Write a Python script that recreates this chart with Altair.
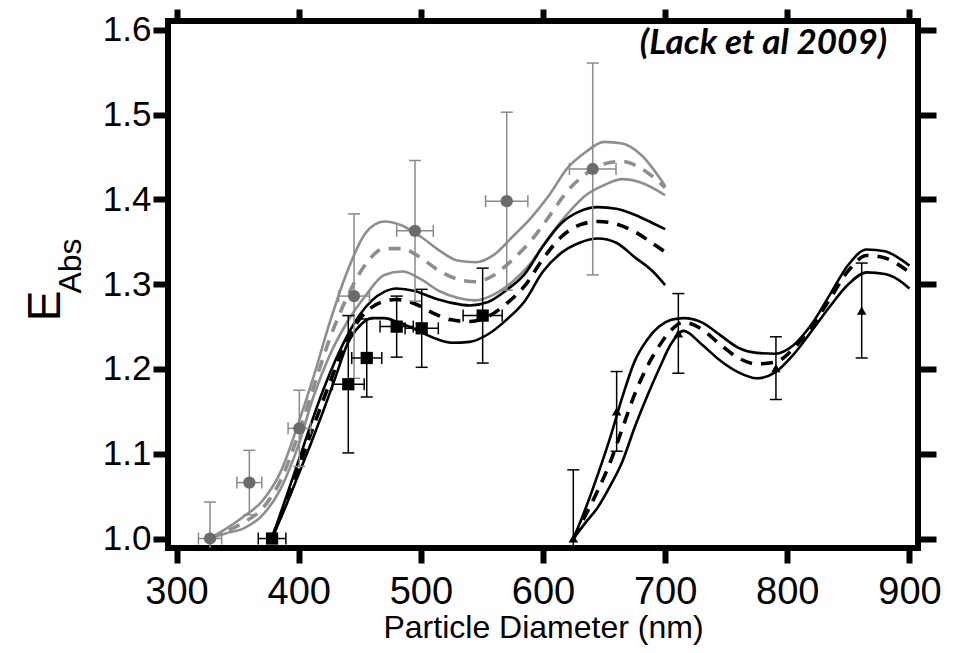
import altair as alt
import pandas as pd

# ---------------- data ----------------
gray_x = [327, 340, 355, 370, 385, 400, 412, 425, 440, 455, 470, 485, 500, 515, 530,
          545, 560, 575, 590, 605, 620, 635, 650, 665, 680, 700]
gray_upper = [1.000, 1.011, 1.026, 1.044, 1.078, 1.137, 1.190, 1.253, 1.316, 1.361, 1.374,
              1.369, 1.356, 1.340, 1.328, 1.326, 1.335, 1.356, 1.378, 1.405, 1.437, 1.456,
              1.468, 1.466, 1.453, 1.416]
gray_mid = [1.000, 1.008, 1.019, 1.035, 1.068, 1.124, 1.178, 1.234, 1.286, 1.324, 1.342,
            1.342, 1.331, 1.316, 1.306, 1.303, 1.311, 1.329, 1.351, 1.380, 1.410, 1.430,
            1.442, 1.445, 1.437, 1.414]
gray_lower = [1.000, 1.006, 1.012, 1.027, 1.058, 1.111, 1.167, 1.215, 1.256, 1.287, 1.311,
              1.315, 1.306, 1.292, 1.284, 1.281, 1.288, 1.303, 1.325, 1.356, 1.383, 1.405,
              1.417, 1.424, 1.420, 1.405]

black_x = [378, 390, 400, 410, 420, 430, 440, 450, 460, 470, 480, 495, 510, 525, 540,
           555, 570, 585, 600, 615, 630, 645, 660, 675, 690, 700]
black_upper = [1.000, 1.050, 1.092, 1.135, 1.175, 1.210, 1.240, 1.264, 1.281, 1.291, 1.295,
               1.292, 1.284, 1.278, 1.275, 1.279, 1.293, 1.312, 1.345, 1.372, 1.386, 1.391,
               1.389, 1.382, 1.372, 1.365]
black_mid = [1.000, 1.045, 1.084, 1.124, 1.163, 1.201, 1.236, 1.259, 1.273, 1.280, 1.282,
             1.277, 1.266, 1.258, 1.256, 1.262, 1.277, 1.298, 1.330, 1.356, 1.370, 1.374,
             1.371, 1.362, 1.348, 1.338]
black_lower = [1.000, 1.040, 1.076, 1.112, 1.150, 1.190, 1.230, 1.251, 1.260, 1.260, 1.256,
               1.247, 1.237, 1.231, 1.232, 1.241, 1.258, 1.280, 1.315, 1.337, 1.349, 1.354,
               1.349, 1.332, 1.315, 1.299]

tri_x = [625, 635, 645, 655, 665, 675, 685, 695, 705, 715, 730, 745, 760, 775, 790,
         805, 820, 835, 850, 865, 880, 890, 900]
tri_upper = [1.000, 1.036, 1.076, 1.119, 1.167, 1.209, 1.234, 1.250, 1.258, 1.260, 1.255,
             1.240, 1.225, 1.219, 1.218, 1.228, 1.253, 1.288, 1.323, 1.341, 1.339, 1.332,
             1.322]
tri_mid = [1.000, 1.028, 1.057, 1.090, 1.130, 1.170, 1.202, 1.227, 1.246, 1.255, 1.247,
           1.229, 1.213, 1.206, 1.208, 1.224, 1.250, 1.283, 1.316, 1.334, 1.331, 1.324,
           1.314]
tri_lower = [1.000, 1.019, 1.037, 1.062, 1.091, 1.131, 1.167, 1.200, 1.230, 1.245, 1.229,
             1.210, 1.196, 1.189, 1.196, 1.217, 1.245, 1.274, 1.300, 1.314, 1.312, 1.306,
             1.295]

circle_x = [327.4, 359.6, 400.5, 445.3, 495.2, 570.3, 640.7]
circle_y = [1.000, 1.066, 1.130, 1.286, 1.363, 1.398, 1.436]
circle_yerr = [0.043, 0.038, 0.045, 0.097, 0.083, 0.105, 0.125]
circle_xerr = [9.5, 10.2, 9.2, 12.6, 15.0, 17.3, 19.1]

square_x = [378.2, 440.6, 455.7, 480.2, 500.7, 550.6]
square_y = [1.000, 1.182, 1.213, 1.250, 1.248, 1.263]
square_yerr = [0.0, 0.081, 0.046, 0.036, 0.046, 0.056]
square_xerr = [11.3, 13.0, 12.3, 13.6, 13.6, 16.0]

triangle_x = [624.8, 660.3, 710.8, 790.7, 860.9]
triangle_y = [1.000, 1.150, 1.242, 1.201, 1.269]
triangle_yerr = [0.081, 0.047, 0.047, 0.037, 0.056]

x_ticks = [300, 400, 500, 600, 700, 800, 900]
y_ticks = [1.0, 1.1, 1.2, 1.3, 1.4, 1.5, 1.6]

# ---------------- tables ----------------
def long_lines(xs, curves):
    rows = []
    for name, ys in curves.items():
        for xv, yv in zip(xs, ys):
            rows.append({"x": xv, "y": yv, "s": name})
    return pd.DataFrame(rows)

gray_solid = long_lines(gray_x, {"gu": gray_upper, "gl": gray_lower})
gray_dash = long_lines(gray_x, {"gm": gray_mid})
black_solid = pd.concat([long_lines(black_x, {"bu": black_upper, "bl": black_lower}),
                         long_lines(tri_x, {"tu": tri_upper, "tl": tri_lower})])
black_dash = pd.concat([long_lines(black_x, {"bm": black_mid}),
                        long_lines(tri_x, {"tm": tri_mid})])

def err_df(xs, ys, yerr, xerr=None):
    d = pd.DataFrame({"x": xs, "y": ys})
    d["ylo"] = [a - b for a, b in zip(ys, yerr)]
    d["yhi"] = [a + b for a, b in zip(ys, yerr)]
    if xerr is not None:
        d["xlo"] = [a - b for a, b in zip(xs, xerr)]
        d["xhi"] = [a + b for a, b in zip(xs, xerr)]
    return d

circ = err_df(circle_x, circle_y, circle_yerr, circle_xerr)
sq = err_df(square_x, square_y, square_yerr, square_xerr)
tri = err_df(triangle_x, triangle_y, triangle_yerr)

# ---------------- scales / axes ----------------
FONT = "Liberation Sans"
xs = alt.Scale(domain=[293, 907], nice=False, zero=False)
ys = alt.Scale(domain=[0.9888, 1.6106], nice=False, zero=False)

x_axis = alt.Axis(values=x_ticks, title="Particle Diameter (nm)", grid=False, domain=False,
                  tickSize=15, tickWidth=6, tickColor="black", labelFontSize=38,
                  labelFont=FONT, labelColor="black", labelPadding=10,
                  titleFont=FONT, titleFontSize=32, titleFontWeight="normal",
                  titleColor="black", titlePadding=1)
y_axis = alt.Axis(values=y_ticks, format=".1f", title=None, grid=False, domain=False,
                  tickSize=15, tickWidth=6, tickColor="black", labelFontSize=35,
                  labelFont=FONT, labelColor="black", labelPadding=2)

X = alt.X("x:Q", scale=xs, axis=x_axis)
Y = alt.Y("y:Q", scale=ys, axis=y_axis)

GRAY_LINE = "#8e8e8e"
GRAY_PT = "#6b6b6b"
GRAY_ERR = "#8a8a8a"

layers = []
layers.append(alt.Chart(gray_solid).mark_line(color=GRAY_LINE, strokeWidth=2.6, interpolate="monotone", clip=True)
              .encode(x=X, y=Y, detail="s:N"))
layers.append(alt.Chart(gray_dash).mark_line(color=GRAY_LINE, strokeWidth=3.6, strokeDash=[12, 9], interpolate="monotone", clip=True)
              .encode(x="x:Q", y="y:Q", detail="s:N"))
layers.append(alt.Chart(black_solid).mark_line(color="black", strokeWidth=2.6, interpolate="monotone", clip=True)
              .encode(x="x:Q", y="y:Q", detail="s:N"))
layers.append(alt.Chart(black_dash).mark_line(color="black", strokeWidth=3.6, strokeDash=[12, 9], interpolate="monotone", clip=True)
              .encode(x="x:Q", y="y:Q", detail="s:N"))

def errbars(df, color, has_x):
    out = []
    out.append(alt.Chart(df).mark_rule(color=color, strokeWidth=1.5, clip=True)
               .encode(x="x:Q", y="ylo:Q", y2="yhi:Q"))
    out.append(alt.Chart(df).mark_rule(color=color, strokeWidth=1.5, xOffset=-6, x2Offset=6, clip=True)
               .encode(x="x:Q", x2="x:Q", y="yhi:Q"))
    out.append(alt.Chart(df).mark_rule(color=color, strokeWidth=1.5, xOffset=-6, x2Offset=6, clip=True)
               .encode(x="x:Q", x2="x:Q", y="ylo:Q"))
    if has_x:
        out.append(alt.Chart(df).mark_rule(color=color, strokeWidth=1.5, clip=True)
                   .encode(x="xlo:Q", x2="xhi:Q", y="y:Q"))
        out.append(alt.Chart(df).mark_rule(color=color, strokeWidth=1.5, yOffset=-6, y2Offset=6, clip=True)
                   .encode(x="xlo:Q", y="y:Q", y2="y:Q"))
        out.append(alt.Chart(df).mark_rule(color=color, strokeWidth=1.5, yOffset=-6, y2Offset=6, clip=True)
                   .encode(x="xhi:Q", y="y:Q", y2="y:Q"))
    return out

layers += errbars(circ, GRAY_ERR, True)
layers += errbars(sq, "black", True)
layers += errbars(tri, "black", False)

layers.append(alt.Chart(circ).mark_point(shape="circle", filled=True, color=GRAY_PT, size=150, opacity=1, clip=True)
              .encode(x="x:Q", y="y:Q"))
layers.append(alt.Chart(sq).mark_point(shape="square", filled=True, color="black", size=150, opacity=1, clip=True)
              .encode(x="x:Q", y="y:Q"))
layers.append(alt.Chart(tri).mark_point(shape="triangle-up", filled=True, color="black", size=90, opacity=1, clip=True)
              .encode(x="x:Q", y="y:Q"))

# annotations
note = pd.DataFrame({"t": ["(Lack et al 2009)"]})
layers.append(alt.Chart(note).mark_text(font="Lato", fontSize=35, fontWeight="bold", fontStyle="italic",
                                        align="right", baseline="alphabetic", color="black")
              .encode(text="t:N", x=alt.value(719), y=alt.value(33)))
ytitle = pd.DataFrame({"e": ["E"], "sub": ["Abs"]})
layers.append(alt.Chart(ytitle).mark_text(font=FONT, fontSize=46, angle=270, align="center",
                                          baseline="middle", color="black")
              .encode(text="e:N", x=alt.value(-122), y=alt.value(285)))
layers.append(alt.Chart(ytitle).mark_text(font=FONT, fontSize=32, angle=270, align="center",
                                          baseline="middle", color="black")
              .encode(text="sub:N", x=alt.value(-97), y=alt.value(245)))

main = alt.layer(*layers)

# mirrored ticks on top and right
mirror = alt.Chart(circ).mark_point(opacity=0).encode(
    x=alt.X("x:Q", scale=xs, axis=alt.Axis(orient="top", values=x_ticks, labels=False, title=None,
                                           grid=False, domain=False, tickSize=12, tickWidth=6,
                                           tickColor="black")),
    y=alt.Y("y:Q", scale=ys, axis=alt.Axis(orient="right", values=y_ticks, labels=False, title=None,
                                           grid=False, domain=False, tickSize=18, tickWidth=6,
                                           tickColor="black")),
)

chart = alt.layer(main, mirror).resolve_axis(x="independent", y="independent").properties(
    width=750, height=527,
    autosize=alt.AutoSizeParams(type="none"),
    padding={"left": 160, "top": 13, "right": 44, "bottom": 97},
).configure_view(stroke="black", strokeWidth=6)

chart.save("out.html", embed_options={"renderer": "svg", "actions": False})
